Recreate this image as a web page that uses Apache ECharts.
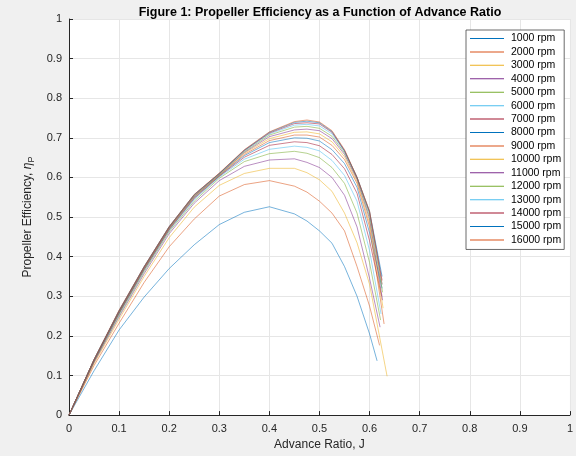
<!DOCTYPE html>
<html><head><meta charset="utf-8">
<script src="https://cdn.jsdelivr.net/npm/echarts@6/dist/echarts.min.js"></script>
<style>html,body{margin:0;padding:0;background:#f0f0f0;overflow:hidden;}#c{width:576px;height:456px;}</style>
</head><body><div id="c"></div>
<script>
const rpmLabels = ['1000 rpm','2000 rpm','3000 rpm','4000 rpm','5000 rpm','6000 rpm','7000 rpm','8000 rpm','9000 rpm','10000 rpm','11000 rpm','12000 rpm','13000 rpm','14000 rpm','15000 rpm','16000 rpm'];
const jGrid = [0, 0.05, 0.1, 0.15, 0.2, 0.25, 0.3, 0.35, 0.4, 0.45, 0.475, 0.5, 0.525, 0.55, 0.575, 0.6];
const eta1000  = [0, .112, .215, .298, .37,  .43,  .481, .512, .526, .508, .49,  .465, .434, .375, .30,  .205];
const eta2000  = [0, .125, .232, .335, .425, .495, .553, .582, .592, .578, .563, .54,  .51,  .465, .375, .275];
const eta3000  = [0, .13,  .242, .35,  .448, .525, .58,  .61,  .623, .623, .612, .594, .565, .51,  .435, .33];
const eta4000  = [0, .133, .248, .357, .458, .535, .592, .628, .644, .647, .638, .625, .60,  .555, .475, .345];
const eta5000  = [0, .135, .252, .362, .463, .54,  .598, .64,  .66,  .666, .661, .65,  .625, .585, .51,  .385];
const eta6000  = [0, .136, .255, .365, .466, .544, .601, .646, .671, .679, .676, .667, .643, .605, .54,  .415];
const eta7000  = [0, .137, .257, .367, .468, .547, .603, .651, .681, .69,  .688, .68,  .658, .622, .56,  .44];
const eta8000  = [0, .138, .258, .369, .47,  .549, .604, .655, .688, .70,  .699, .692, .67,  .635, .575, .46];
const eta9000  = [0, .138, .259, .37,  .471, .551, .605, .658, .693, .707, .707, .702, .681, .645, .585, .475];
const eta10000 = [0, .139, .26,  .371, .472, .552, .606, .661, .698, .714, .715, .71,  .69,  .652, .59,  .485];
const eta11000 = [0, .139, .261, .372, .473, .553, .607, .663, .703, .72,  .722, .718, .698, .658, .595, .495];
const eta12000 = [0, .14,  .262, .373, .474, .554, .608, .665, .707, .727, .729, .724, .704, .662, .598, .502];
const eta13000 = [0, .14,  .263, .374, .475, .555, .609, .667, .71,  .732, .734, .73,  .71,  .665, .60,  .508];
const eta14000 = [0, .14,  .263, .374, .475, .556, .61,  .668, .712, .736, .738, .735, .714, .667, .60,  .512];
const eta15000 = [0, .14,  .264, .375, .476, .557, .61,  .669, .714, .739, .742, .738, .716, .668, .60,  .514];
const eta16000 = [0, .14,  .265, .375, .476, .557, .611, .67,  .715, .741, .745, .74,  .718, .67,  .60,  .515];
const endJ   = [.615, .62, .635, .621, .622, .623, .624, .625, .629, .627, .626, .626, .625, .625, .625, .625];
const endEta = [.137, .176, .098, .222, .24, .255, .30, .32, .23, .27, .29, .31, .33, .34, .35, .33];
const xTicks = [0, 0.1, 0.2, 0.3, 0.4, 0.5, 0.6, 0.7, 0.8, 0.9, 1];
const yTicks = [0, 0.1, 0.2, 0.3, 0.4, 0.5, 0.6, 0.7, 0.8, 0.9, 1];

const allEta = [eta1000, eta2000, eta3000, eta4000, eta5000, eta6000, eta7000, eta8000,
  eta9000, eta10000, eta11000, eta12000, eta13000, eta14000, eta15000, eta16000];
const palette = ['#0072BD','#D95319','#EDB120','#7E2F8E','#77AC30','#4DBEEE','#A2142F'];
const FONT = '"Liberation Sans", Arial, Helvetica, sans-serif';

const series = allEta.map((arr, i) => {
  const pts = jGrid.map((j, k) => [j, arr[k]]);
  pts.push([endJ[i], endEta[i]]);
  return {
    name: rpmLabels[i], type: 'line', data: pts, showSymbol: false, symbol: 'none',
    lineStyle: { width: 0.6, color: palette[i % 7], opacity: 0.9 }, itemStyle: { color: palette[i % 7] },
    animation: false, z: 3 + i
  };
});

const chart = echarts.init(document.getElementById('c'), null, { renderer: 'canvas', width: 576, height: 456 });
chart.setOption({
  backgroundColor: '#f0f0f0',
  animation: false,
  title: {
    text: 'Figure 1: Propeller Efficiency as a Function of Advance Ratio',
    left: 315, top: 1, textAlign: 'center',
    textStyle: { fontFamily: FONT, fontSize: 12.5, fontWeight: 'bold', color: '#000' }
  },
  grid: { left: 69, top: 19, width: 502, height: 400, show: true, backgroundColor: '#ffffff', borderWidth: 0 },
  legend: {
    data: rpmLabels, orient: 'vertical', left: 466, top: 30,
    icon: 'rect', itemWidth: 34, itemHeight: 1, itemGap: 0.43,
    padding: [2, 3, 3, 4],
    backgroundColor: '#ffffff', borderColor: '#444444', borderWidth: 0.8,
    textStyle: { fontFamily: FONT, fontSize: 10.5, color: '#000', lineHeight: 13, padding: [0, 0, 0, 2] },
    selectedMode: false
  },
  xAxis: {
    type: 'value', min: 0, max: 1, interval: 0.1,
    name: 'Advance Ratio, J', nameLocation: 'middle', nameGap: 21,
    nameTextStyle: { fontFamily: FONT, fontSize: 12, color: '#262626' },
    axisLine: { show: true, onZero: false, lineStyle: { color: '#262626', width: 1 } },
    axisTick: { show: true, inside: true, length: 4, lineStyle: { color: '#262626' } },
    axisLabel: { fontFamily: FONT, fontSize: 11, color: '#262626', margin: 8,
      formatter: v => xTicks.indexOf(Math.round(v * 10) / 10) >= 0 ? String(Math.round(v * 10) / 10) : '' },
    splitLine: { show: true, lineStyle: { color: '#e6e6e6', width: 1 } }
  },
  yAxis: {
    type: 'value', min: 0, max: 1, interval: 0.1,
    name: 'Propeller Efficiency, {e|η}{s|P}', nameLocation: 'middle', nameGap: 22,
    nameTextStyle: { fontFamily: FONT, fontSize: 12, color: '#262626', lineHeight: 16,
      rich: { e: { fontFamily: FONT, fontSize: 12, fontStyle: 'italic', color: '#262626', lineHeight: 16 },
              s: { fontFamily: FONT, fontSize: 9, color: '#262626', lineHeight: 9, verticalAlign: 'bottom' } } },
    axisLine: { show: true, onZero: false, lineStyle: { color: '#262626', width: 1 } },
    axisTick: { show: true, inside: true, length: 4, lineStyle: { color: '#262626' } },
    axisLabel: { fontFamily: FONT, fontSize: 11, color: '#262626', margin: 7,
      formatter: v => yTicks.indexOf(Math.round(v * 10) / 10) >= 0 ? String(Math.round(v * 10) / 10) : '' },
    splitLine: { show: true, lineStyle: { color: '#e6e6e6', width: 1 } }
  },
  series: series
});
</script></body></html>
